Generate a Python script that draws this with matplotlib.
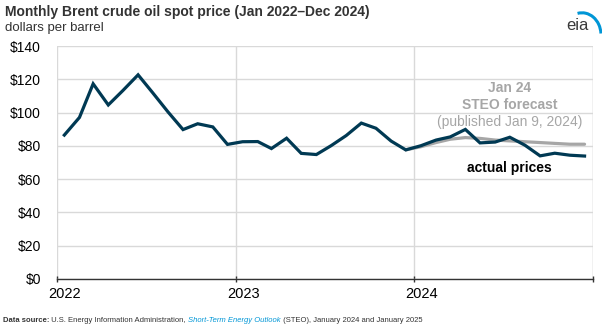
import numpy as np
import pandas as pd
import matplotlib.pyplot as plt
import matplotlib.dates as mdates
from matplotlib.patches import Arc

plt.rcParams['font.family'] = ['Liberation Sans', 'DejaVu Sans']

# monthly Brent spot price, Jan 2022 - Dec 2024 (dollars per barrel)
months = pd.date_range('2022-01-01', periods=36, freq='MS') + pd.Timedelta(days=14)
actual = [86.5, 97.1, 117.3, 104.6, 113.3, 122.7, 111.9, 100.5, 89.8, 93.3, 91.4, 80.9,
          82.5, 82.6, 78.4, 84.6, 75.5, 74.8, 80.1, 86.2, 93.7, 90.6, 82.9, 77.6,
          80.1, 83.5, 85.4, 89.9, 81.8, 82.3, 85.2, 80.4, 74.0, 75.6, 74.4, 73.9]

# Jan 2024 STEO forecast, Dec 2023 - Dec 2024
fc_months = months[23:]
forecast = [77.6, 79.5, 82.0, 84.0, 85.0, 84.5, 83.5, 83.0, 82.5, 82.0, 81.5, 81.0, 81.0]

year_ticks = pd.to_datetime(['2022-01-01', '2023-01-01', '2024-01-01', '2025-01-01'])
year_labels = ['2022', '2023', '2024']
yticks = np.arange(0, 141, 20)

navy = '#003953'
grey = '#a6a6a6'
grid = '#d9d9d9'

fig = plt.figure(figsize=(6.07, 3.29), dpi=100)
ax = fig.add_axes([0.0947, 0.152, 0.882, 0.708])

ax.plot(fc_months, forecast, color=grey, lw=2.3, solid_capstyle='round', zorder=2)
ax.plot(months, actual, color=navy, lw=2.3, solid_joinstyle='miter', zorder=3)

ax.set_xlim(year_ticks[0], year_ticks[-1])
ax.set_ylim(0, 140)
ax.set_yticks(yticks)
ax.set_yticklabels(['$%d' % v for v in yticks], fontsize=10)
ax.tick_params(axis='y', length=0, pad=12)

ax.set_xticks(year_ticks)
ax.set_xticklabels([])
ax.tick_params(axis='x', which='major', length=5, direction='inout', color='#333333', width=1)
ax.set_xticks(pd.to_datetime(['2022-01-16', '2023-01-16', '2024-01-16']), minor=True)
ax.set_xticklabels(year_labels, minor=True, fontsize=10.5)
ax.tick_params(axis='x', which='minor', length=0, pad=6)

ax.grid(True, which='major', color=grid, lw=1)
ax.set_axisbelow(True)
for s in ['top', 'left', 'right']:
    ax.spines[s].set_visible(False)
ax.spines['bottom'].set_color('#333333')
ax.spines['bottom'].set_linewidth(1)
ax.axvline(year_ticks[-1], color=grid, lw=1, zorder=0)

# annotations
xc = mdates.date2num(pd.Timestamp('2024-07-15'))
ax.text(xc, 114.5, 'Jan 24', color=grey, fontsize=10, fontweight='bold', ha='center', va='center')
ax.text(xc, 104.5, 'STEO forecast', color=grey, fontsize=10, fontweight='bold', ha='center', va='center')
ax.text(xc, 94.5, '(published Jan 9, 2024)', color=grey, fontsize=10, ha='center', va='center')
ax.text(xc, 67, 'actual prices', color='black', fontsize=10, fontweight='bold', ha='center', va='center')

# title
fig.text(5 / 607, 1 - 12 / 329, 'Monthly Brent crude oil spot price (Jan 2022\u2013Dec 2024)',
         fontsize=10, fontweight='bold', color='#333333', va='center')
fig.text(5 / 607, 1 - 28 / 329, 'dollars per barrel', fontsize=9.5, color='#333333', va='center')

# eia logo
fig.text(577 / 607, 1 - 26 / 329, 'eia', fontsize=12, color='#3a3a3a', ha='center', va='center')
logo = fig.add_axes([562 / 607, 1 - 40 / 329, 40 / 607, 34 / 329])
logo.set_xlim(0, 1)
logo.set_ylim(0, 1)
logo.axis('off')
logo.add_patch(Arc((0.5, 0.15), 0.95, 1.3, theta1=5, theta2=100, color='#0096d6', lw=2.2))

# footer
y_f = 1 - 320 / 329
t = fig.text(3 / 607, y_f, 'Data source:', fontsize=5.5, fontweight='bold', color='#333333', va='center')
fig.canvas.draw()
r = fig.canvas.get_renderer()
x = t.get_window_extent(r).x1 / fig.bbox.width
parts = [(' U.S. Energy Information Administration, ', 'normal', '#333333'),
         ('Short-Term Energy Outlook', 'italic', '#0096d6'),
         (' (STEO), January 2024 and January 2025', 'normal', '#333333')]
for s, style, c in parts:
    t = fig.text(x, y_f, s, fontsize=5.5, style=style, color=c, va='center')
    x = t.get_window_extent(r).x1 / fig.bbox.width

fig.savefig('out.png', dpi=100)
